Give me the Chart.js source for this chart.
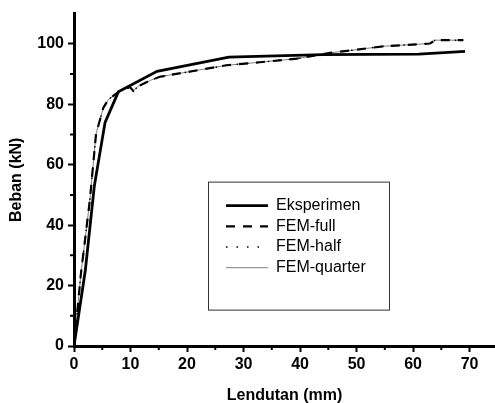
<!DOCTYPE html>
<html>
<head>
<meta charset="utf-8">
<script src="https://cdn.jsdelivr.net/npm/chart.js@4.4.1/dist/chart.umd.min.js"></script>
<style>
  body { margin: 0; background: #fff; }
</style>
</head>
<body>
<canvas id="myChart" width="495" height="403"></canvas>
<script>
// Data
const expX = [0, 2.0, 3.6, 5.5, 7.85, 14.7, 27.4, 44.0, 61.0, 69.2];
const expY = [0, 25, 53, 74, 84.1, 90.9, 95.6, 96.4, 96.6, 97.5];

const femFullX = [0, 1.2, 2.8, 3.9, 5.2, 6.1, 7.85, 9.9, 10.5, 11.4, 13.5, 15.2, 21.1, 27.0, 32.9, 39.4, 45.3, 48.9, 54.8, 63.0, 63.9, 68.9];
const femFullY = [0, 23.5, 48.2, 70.2, 78.9, 81.6, 84.1, 85.7, 84.4, 86.0, 87.9, 89.1, 91.0, 92.9, 93.9, 95.1, 97.0, 97.8, 99.2, 100.1, 101.2, 101.2];

const femHalfX = [0, 1.2, 2.8, 3.9, 5.2, 6.1, 7.85, 9.9, 10.5, 11.4, 13.5, 15.2, 21.1, 27.0, 32.9, 39.4, 45.3, 48.9, 54.8, 63.0, 63.9, 68.9];
const femHalfY = [0, 23.5, 48.2, 70.2, 78.9, 81.6, 84.1, 85.7, 84.4, 86.0, 87.9, 89.1, 91.0, 92.9, 93.9, 95.1, 97.0, 97.8, 99.2, 100.1, 101.2, 101.2];

const femQuarterX = [0, 1.2, 2.8, 3.9, 5.2, 6.1, 7.85, 9.9, 10.5, 11.4, 13.5, 15.2, 21.1, 27.0, 32.9, 39.4, 45.3, 48.9, 54.8, 63.0, 63.9, 68.9];
const femQuarterY = [0, 23.5, 48.2, 70.2, 78.9, 81.6, 84.1, 85.7, 84.4, 86.0, 87.9, 89.1, 91.0, 92.9, 93.9, 95.1, 97.0, 97.8, 99.2, 100.1, 101.2, 101.2];

const xMinorTicks = [5, 15, 25, 35, 45, 55, 65];
const yMinorTicks = [10, 30, 50, 70, 90];

const toPoints = (xs, ys) => xs.map((x, i) => ({ x: x, y: ys[i] }));

// minor ticks + legend box drawn inside the plot
const extras = {
  id: "extras",
  afterDraw(chart) {
    const ctx = chart.ctx;
    const xs = chart.scales.x, ys = chart.scales.y;
    const area = chart.chartArea;
    ctx.save();
    ctx.strokeStyle = "#000";
    ctx.lineWidth = 2;
    ctx.beginPath();
    xMinorTicks.forEach(v => {
      const px = xs.getPixelForValue(v);
      ctx.moveTo(px, area.bottom);
      ctx.lineTo(px, area.bottom + 4);
    });
    yMinorTicks.forEach(v => {
      const py = ys.getPixelForValue(v);
      ctx.moveTo(area.left, py);
      ctx.lineTo(area.left - 4, py);
    });
    ctx.stroke();

    // legend
    const bx = area.left + 134, by = area.top + 168, bw = 181, bh = 128;
    ctx.lineWidth = 1;
    ctx.strokeStyle = "#333";
    ctx.strokeRect(bx + 0.5, by + 0.5, bw, bh);
    ctx.font = "16px 'Liberation Sans', Arial, sans-serif";
    ctx.fillStyle = "#000";
    ctx.textBaseline = "middle";
    chart.data.datasets.forEach((ds, i) => {
      const ly = by + 24 + i * 20.7;
      ctx.beginPath();
      ctx.strokeStyle = ds.borderColor;
      ctx.lineWidth = ds.borderWidth;
      ctx.setLineDash(ds.borderDash || []);
      ctx.moveTo(bx + 18, ly);
      ctx.lineTo(bx + 60, ly);
      ctx.stroke();
      ctx.setLineDash([]);
      ctx.fillText(ds.label, bx + 68, ly);
    });
    ctx.restore();
  },
};

const ctx = document.getElementById("myChart").getContext("2d");

const chart = new Chart(ctx, {
  type: "line",
  data: {
    datasets: [
      {
        label: "Eksperimen",
        data: toPoints(expX, expY),
        borderColor: "#000",
        borderWidth: 2.8,
      },
      {
        label: "FEM-full",
        data: toPoints(femFullX, femFullY),
        borderColor: "#000",
        borderWidth: 2.2,
        borderDash: [9, 8],
      },
      {
        label: "FEM-half",
        data: toPoints(femHalfX, femHalfY),
        borderColor: "#000",
        borderWidth: 1.5,
        borderDash: [1.5, 9],
      },
      {
        label: "FEM-quarter",
        data: toPoints(femQuarterX, femQuarterY),
        borderColor: "#808080",
        borderWidth: 1,
      },
    ],
  },
  options: {
    responsive: false,
    animation: false,
    layout: { padding: { top: 12, right: 0, left: 0, bottom: 0 } },
    elements: { point: { radius: 0 }, line: { tension: 0 } },
    plugins: { legend: { display: false }, tooltip: { enabled: false } },
    scales: {
      x: {
        type: "linear",
        min: 0,
        max: 74.5,
        afterFit: (s) => { s.height = 57; },
        grid: { drawOnChartArea: false, tickLength: 6, tickWidth: 2, tickColor: "#000" },
        border: { color: "#000", width: 3 },
        ticks: {
          stepSize: 10,
          includeBounds: false,
          color: "#000",
          padding: 3,
          font: { family: "'Liberation Sans', Arial", size: 16, weight: "bold" },
        },
        title: {
          display: true,
          text: "Lendutan (mm)",
          color: "#000",
          padding: { top: 0, bottom: -2 },
          font: { family: "'Liberation Sans', Arial", size: 16, weight: "bold" },
        },
      },
      y: {
        min: 0,
        max: 110,
        afterFit: (s) => { s.width = 74; },
        grid: { drawOnChartArea: false, tickLength: 6, tickWidth: 2, tickColor: "#000" },
        border: { color: "#000", width: 3 },
        ticks: {
          stepSize: 20,
          includeBounds: false,
          color: "#000",
          padding: 4,
          font: { family: "'Liberation Sans', Arial", size: 16, weight: "bold" },
        },
        title: {
          display: true,
          text: "Beban (kN)",
          color: "#000",
          padding: { top: 7, bottom: 0 },
          font: { family: "'Liberation Sans', Arial", size: 16, weight: "bold" },
        },
      },
    },
  },
  plugins: [extras],
});
</script>
</body>
</html>
